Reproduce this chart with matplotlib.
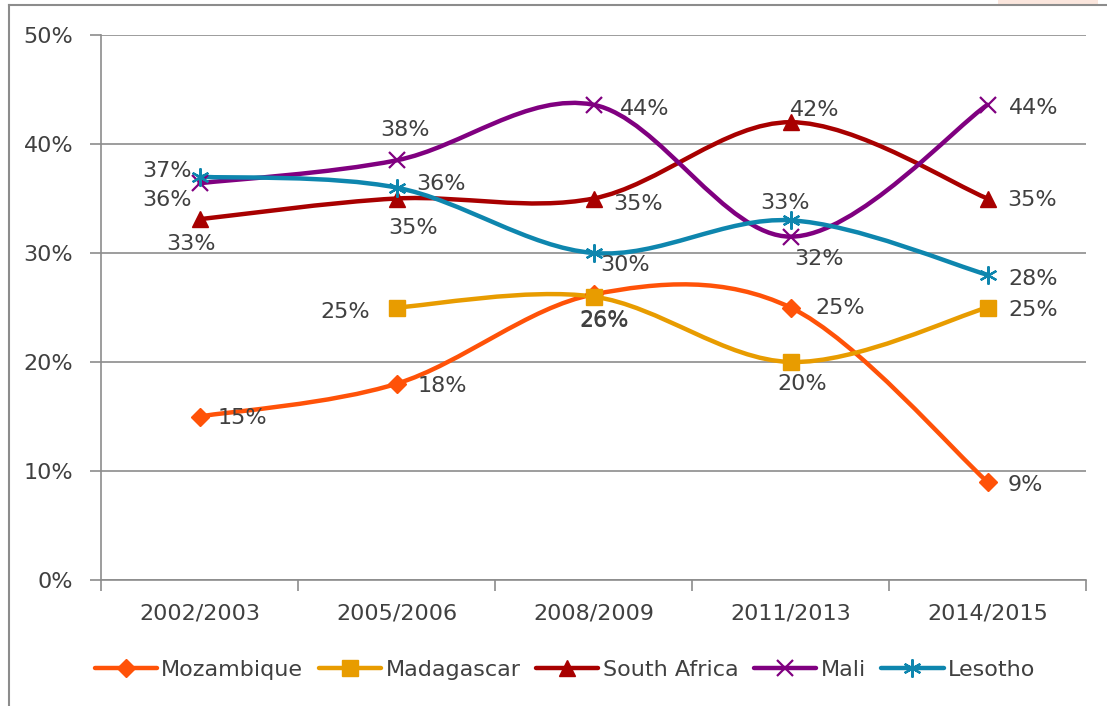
import matplotlib
matplotlib.use("Agg")
import matplotlib.pyplot as plt
from matplotlib.path import Path
from matplotlib.patches import PathPatch, Rectangle
from matplotlib.lines import Line2D
import numpy as np

periods = ["2002/2003", "2005/2006", "2008/2009", "2011/2013", "2014/2015"]

mozambique = [15.0, 18.0, 26.2, 25.0, 9.0]
madagascar = [None, 25.0, 26.0, 20.0, 25.0]
south_africa = [33.1, 35.0, 35.0, 42.0, 35.0]
mali = [36.4, 38.5, 43.6, 31.5, 43.6]
lesotho = [37.0, 36.0, 30.0, 33.0, 28.0]

moz_labels = ["15%", "18%", "26%", "25%", "9%"]
mad_labels = [None, "25%", "26%", "20%", "25%"]
rsa_labels = ["33%", "35%", "35%", "42%", "35%"]
mali_labels = ["36%", "38%", "44%", "32%", "44%"]
les_labels = ["37%", "36%", "30%", "33%", "28%"]

TXT = "#404040"
GRID = "#8c8c8c"
FS = 16

series = [
    ("Mozambique", mozambique, moz_labels, "#ff5208", "D", 9, 1,
     [(43, -1), (46, -2), (11, -26), (50, -1), (38, -3)]),
    ("Madagascar", madagascar, mad_labels, "#e89c00", "s", 12, 1,
     [None, (-51, -5), (11, -24), (12, -22), (46, -3)]),
    ("South Africa", south_africa, rsa_labels, "#a80000", "^", 12, 1,
     [(-8, -25), (17, -30), (45, -6), (24, 12), (45, -2)]),
    ("Mali", mali, mali_labels, "#800080", "x", 12, 1.6,
     [(-32, -17), (9, 30), (51, -4), (29, -22), (46, -3)]),
    ("Lesotho", lesotho, les_labels, "#0e86ae", (6, 2, 0), 13, 1.6,
     [(-32, 6), (44, 4), (32, -12), (-5, 17), (46, -4)]),
]


def smooth_path(xs, ys):
    # Excel-like smoothed line: cubic bezier segments (catmull-rom tangents)
    pts = np.column_stack([xs, ys])
    n = len(pts)
    verts = [pts[0]]
    codes = [Path.MOVETO]
    for i in range(n - 1):
        p0 = pts[i - 1] if i > 0 else pts[i]
        p1 = pts[i]
        p2 = pts[i + 1]
        p3 = pts[i + 2] if i + 2 < n else pts[i + 1]
        c1 = p1 + (p2 - p0) / 6.0
        c2 = p2 - (p3 - p1) / 6.0
        verts += [c1, c2, p2]
        codes += [Path.CURVE4] * 3
    return Path(verts, codes)


plt.rcParams["font.family"] = ["DejaVu Sans"]
fig = plt.figure(figsize=(11.07, 7.06), dpi=100)
ax = fig.add_axes([101 / 1107, 126 / 706, 985 / 1107, 545 / 706])

handles = []
for name, vals, labels, color, marker, ms, mew, offs in series:
    xs = [i for i, v in enumerate(vals) if v is not None]
    ys = [v for v in vals if v is not None]
    patch = PathPatch(smooth_path(xs, ys), facecolor="none", edgecolor=color,
                      lw=3.2, capstyle="round", joinstyle="round", zorder=3)
    ax.add_patch(patch)
    ax.plot(xs, ys, ls="none", marker=marker, ms=ms, mew=mew, color=color,
            mec=color, zorder=4)
    for i, v in enumerate(vals):
        if v is None:
            continue
        ax.annotate(labels[i], (i, v), xytext=offs[i], textcoords="offset pixels",
                    ha="center", va="center", fontsize=FS, color=TXT, zorder=5)
    handles.append(Line2D([], [], color=color, lw=3.2, marker=marker, ms=ms,
                          mew=mew, mec=color, solid_capstyle="round"))

ax.set_xlim(-0.5, 4.5)
ax.set_ylim(0, 50)
ax.set_yticks(range(0, 51, 10))
ax.set_yticklabels([f"{t}%" for t in range(0, 51, 10)])
ax.set_xticks(np.arange(-0.5, 4.6, 1))
ax.set_xticklabels([])
ax.set_xticks(range(5), minor=True)
ax.set_xticklabels(periods, minor=True)
ax.tick_params(axis="x", which="major", length=8, width=1.2, color=GRID, direction="out")
ax.tick_params(axis="x", which="minor", length=0, pad=17, labelsize=FS, labelcolor=TXT)
ax.tick_params(axis="y", length=8, width=1.2, color=GRID, pad=12, labelsize=FS,
               labelcolor=TXT)
ax.grid(axis="y", color=GRID, lw=1.2)
ax.set_axisbelow(True)
for s in ["top", "right"]:
    ax.spines[s].set_visible(False)
for s in ["left", "bottom"]:
    ax.spines[s].set_color(GRID)
    ax.spines[s].set_linewidth(1.2)

leg = fig.legend(handles, [s[0] for s in series], loc="center",
                 bbox_to_anchor=(565 / 1107, 36 / 706), ncol=5, frameon=False,
                 fontsize=FS, handlelength=2.8, handletextpad=0.2,
                 columnspacing=0.7, labelcolor=TXT)

# chart frame (cropped) and the pink corner
fig.add_artist(Rectangle((998 / 1107, 701 / 706), 100 / 1107, 5 / 706,
                         transform=fig.transFigure, color="#fbe6dd", lw=0))
fig.add_artist(Line2D([9 / 1107, 1], [701 / 706, 701 / 706], color=GRID, lw=1.5))
fig.add_artist(Line2D([9 / 1107, 9 / 1107], [0, 701 / 706], color=GRID, lw=1.5))

fig.savefig("out.png", dpi=100)
